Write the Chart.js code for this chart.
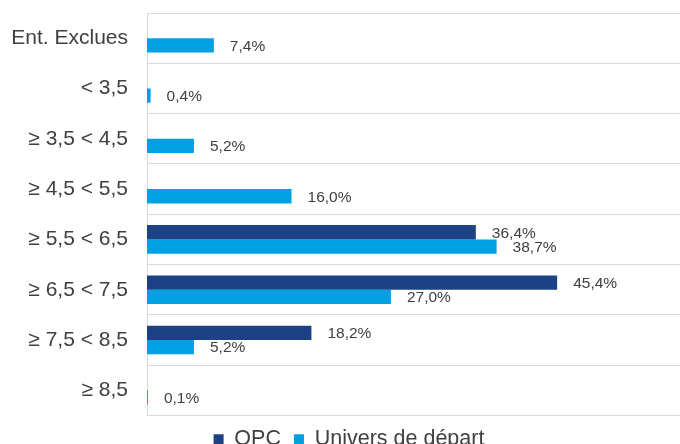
<!DOCTYPE html>
<html>
<head>
<meta charset="utf-8">
<script src="https://cdn.jsdelivr.net/npm/chart.js@4"></script>
<style>
  html, body { margin: 0; padding: 0; background: #fff; overflow: hidden; }
  #wrap { width: 680px; height: 460px; }
</style>
</head>
<body>
<div id="wrap"><canvas id="chart"></canvas></div>
<script>
// categories and series
var categories = ['Ent. Exclues', '< 3,5', '≥ 3,5 < 4,5', '≥ 4,5 < 5,5', '≥ 5,5 < 6,5', '≥ 6,5 < 7,5', '≥ 7,5 < 8,5', '≥ 8,5'];
var opc = [null, null, null, null, 36.4, 45.4, 18.2, null];
var univers = [7.4, 0.4, 5.2, 16.0, 38.7, 27.0, 5.2, 0.1];
var seriesNames = ['OPC', 'Univers de départ'];

var fontFamily = "Arial, 'Liberation Sans', sans-serif";

// little plugin to write the value next to each bar
var valueLabels = {
  id: 'valueLabels',
  afterLayout: function(chart) {
    // legend sits a bit right of the canvas centre in the original
    chart.legend.left += 9;
    chart.legend.right += 9;
  },
  afterDatasetsDraw: function(chart) {
    var ctx = chart.ctx;
    ctx.save();
    ctx.font = '15.5px ' + fontFamily;
    ctx.fillStyle = '#404040';
    ctx.textAlign = 'left';
    ctx.textBaseline = 'middle';
    chart.data.datasets.forEach(function(ds, i) {
      var meta = chart.getDatasetMeta(i);
      meta.data.forEach(function(bar, j) {
        var v = ds.data[j];
        if (v == null) return;
        var txt = v.toFixed(1).replace('.', ',') + '%';
        ctx.fillText(txt, bar.x + 16, bar.y + 1);
      });
    });
    ctx.restore();
  }
};

var ctx = document.getElementById('chart').getContext('2d');
var myChart = new Chart(ctx, {
  type: 'bar',
  data: {
    labels: categories,
    datasets: [{
      label: seriesNames[0],
      data: opc,
      backgroundColor: '#1d4185'
    }, {
      label: seriesNames[1],
      data: univers,
      backgroundColor: '#00a0e3'
    }]
  },
  options: {
    indexAxis: 'y',
    responsive: true,
    maintainAspectRatio: false,
    animation: false,
    categoryPercentage: 0.57,
    barPercentage: 1.0,
    layout: { padding: { top: 13, left: 0, right: 0, bottom: 0 } },
    scales: {
      x: {
        display: false,
        min: 0,
        max: 59
      },
      y: {
        afterFit: function(scale) {
          scale.width = 147;
          scale.paddingTop = 0;
          scale.paddingBottom = 0;
        },
        grid: { color: '#d9d9d9', offset: true, drawTicks: false },
        border: { color: '#d9d9d9' },
        ticks: {
          padding: 19,
          color: '#404040',
          font: { size: 21, family: fontFamily }
        }
      }
    },
    plugins: {
      tooltip: { enabled: false },
      legend: {
        position: 'bottom',
        labels: {
          boxWidth: 10,
          boxHeight: 10,
          padding: 13,
          color: '#404040',
          font: { size: 21.5, family: fontFamily }
        }
      }
    }
  },
  plugins: [valueLabels]
});
</script>
</body>
</html>
